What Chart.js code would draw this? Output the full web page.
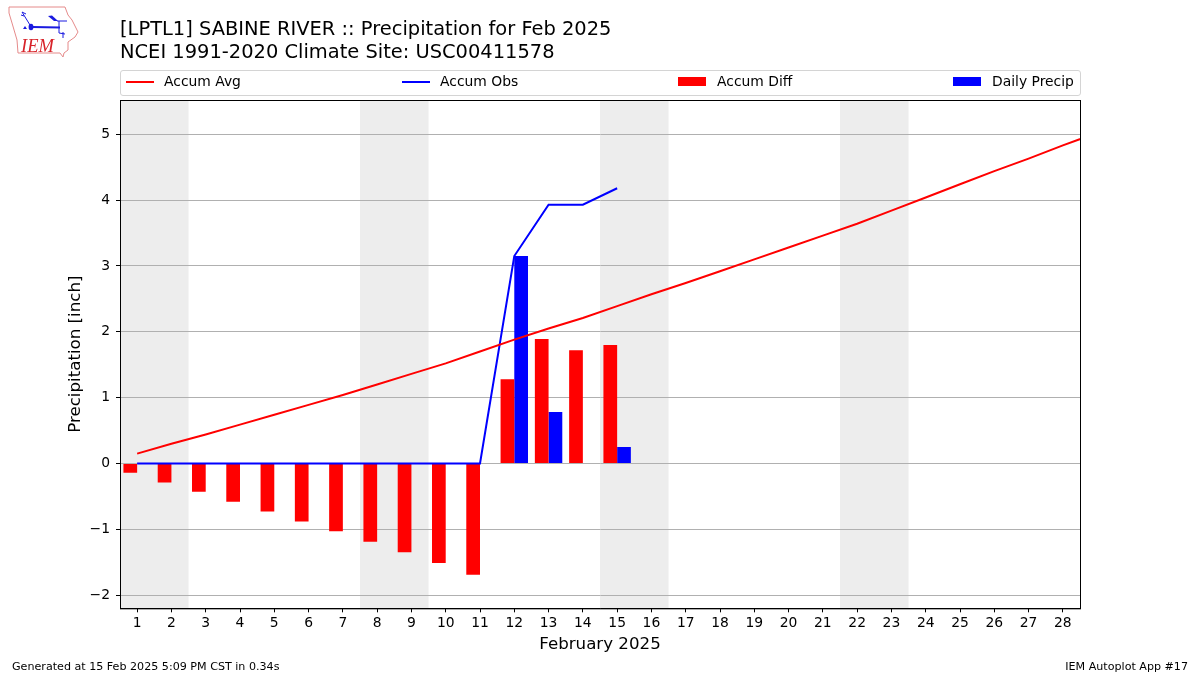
<!DOCTYPE html>
<html>
<head>
<meta charset="utf-8">
<title>Precipitation for Feb 2025</title>
<script src="https://cdn.jsdelivr.net/npm/chart.js@4/dist/chart.umd.min.js"></script>
<style>
  html, body { margin: 0; padding: 0; background: #fff; }
  body { width: 1200px; height: 675px; position: relative; overflow: hidden; font-family: "DejaVu Sans", sans-serif; color: #000; }
  canvas { position: absolute; left: 0; top: 0; }
  #title { position: absolute; left: 120px; top: 18px; font-size: 19.44px; line-height: 22.5px; white-space: nowrap; }
  #legend { position: absolute; left: 120px; top: 70px; width: 959px; height: 24px; border: 1px solid #d4d4d4; border-radius: 3px; font-size: 13.89px; }
  #legend div { position: absolute; top: 0; line-height: 20px; white-space: nowrap; }
  #legend i { position: absolute; top: 10px; left: 0; width: 28px; height: 2px; }
  #legend i.box { top: 6px; height: 9px; }
  #legend span { margin-left: 38px; }
  #legend i.box + span { margin-left: 39px; }
  .foot { position: absolute; top: 660px; font-size: 11.11px; line-height: 13px; white-space: nowrap; }
  #logo { position: absolute; left: 0; top: 0; }
  #logo text { font-family: "Liberation Serif", serif; font-style: italic; }
</style>
</head>
<body>
<canvas id="chart" width="1200" height="675"></canvas>

<svg id="logo" width="90" height="65" viewBox="0 0 90 65">
  <path d="M9 7 L65 7 L68 15 L72 20 L78 32 L75 37 L68 42 L68 50 L64 53 L63 57 L60 53 L18 53 L17 40 L12 23 L9 13 Z" fill="#fff" stroke="#e58a8a" stroke-width="1"/>
  <path d="M32 27 L60 27.5" fill="none" stroke="#1a1ae0" stroke-width="2"/>
  <path d="M22 12 L30 25 M22 12 L26 14 M21 15 L24 16 M57 21 L67 21 M59 21 L59 33 M63 32 L63 38 M59 33 L65 34" fill="none" stroke="#1a1ae0" stroke-width="1"/>
  <path d="M48 16 L52 15.5 L58 21 L54 21 Z" fill="#1a1ae0"/>
  <path d="M23 29 L25 26 L27 29 Z" fill="#1a1ae0"/>
  <ellipse cx="31" cy="27" rx="2.4" ry="3.2" fill="#1a1ae0"/>
  <text x="21" y="52" font-size="18.5" fill="#d8232a">IEM</text>
</svg>

<div id="title"></div>
<div id="legend"></div>
<div class="foot" id="footLeft" style="left:12px"></div>
<div class="foot" id="footRight" style="right:12px"></div>

<script>
const titleLines = ["[LPTL1] SABINE RIVER :: Precipitation for Feb 2025", "NCEI 1991-2020 Climate Site: USC00411578"];
const footerLeft = "Generated at 15 Feb 2025 5:09 PM CST in 0.34s";
const footerRight = "IEM Autoplot App #17";
const xTitle = "February 2025";
const yTitle = "Precipitation [inch]";

const days = [1,2,3,4,5,6,7,8,9,10,11,12,13,14,15,16,17,18,19,20,21,22,23,24,25,26,27,28];
const yTicks = [-2,-1,0,1,2,3,4,5];

// the avg line runs on past the right edge
const avgDays = [...days, 29];
const accumAvg = [0.15,0.30,0.44,0.59,0.74,0.89,1.04,1.20,1.36,1.52,1.70,1.88,2.05,2.21,2.39,2.57,2.74,2.92,3.10,3.28,3.46,3.64,3.84,4.04,4.24,4.44,4.63,4.83,5.02];
const accumObs = [0,0,0,0,0,0,0,0,0,0,0,3.15,3.93,3.93,4.18];
const accumDiff = [-0.14,-0.29,-0.43,-0.58,-0.73,-0.88,-1.03,-1.19,-1.35,-1.51,-1.69,1.28,1.89,1.72,1.80];
const dailyPrecip = [0,0,0,0,0,0,0,0,0,0,0,3.15,0.78,0,0.25];

// weekend bands, first and last day
const weekends = [[1,2],[8,9],[15,16],[22,23]];

const legendItems = [
  { label: "Accum Avg", color: "#ff0000", box: false, left: 5 },
  { label: "Accum Obs", color: "#0000ff", box: false, left: 281 },
  { label: "Accum Diff", color: "#ff0000", box: true, left: 557 },
  { label: "Daily Precip", color: "#0000ff", box: true, left: 832 },
];

document.getElementById("title").innerHTML = titleLines.join("<br>");
document.getElementById("footLeft").textContent = footerLeft;
document.getElementById("footRight").textContent = footerRight;
document.getElementById("legend").innerHTML = legendItems.map((item) =>
  `<div style="left:${item.left}px"><i class="${item.box ? "box" : ""}" style="background:${item.color}"></i><span>${item.label}</span></div>`
).join("");

//grey weekend bands go under the grid, frame goes over everything
const bands = {
  id: "bands",
  beforeDraw(chart) {
    const { ctx, chartArea, scales } = chart;
    ctx.save();
    ctx.fillStyle = "#ededed";
    weekends.forEach(([a, b]) => {
      const x0 = scales.x.getPixelForValue(a - 0.5);
      const x1 = scales.x.getPixelForValue(b + 0.5);
      ctx.fillRect(x0, chartArea.top, x1 - x0, chartArea.bottom - chartArea.top);
    });
    ctx.restore();
  },
  afterDraw(chart) {
    const { ctx, chartArea } = chart;
    ctx.save();
    ctx.strokeStyle = "#000";
    ctx.lineWidth = 1;
    ctx.strokeRect(chartArea.left + 0.5, chartArea.top + 0.5, chartArea.right - chartArea.left, chartArea.bottom - chartArea.top);
    ctx.restore();
  },
};

const xy = (xs, ys) => ys.map((y, i) => ({ x: xs[i], y: y }));
const tickFont = { family: "'DejaVu Sans'", size: 13.89 };
const axisFont = { family: "'DejaVu Sans'", size: 16.67 };

new Chart(document.getElementById("chart"), {
  data: {
    datasets: [
      { type: "line", label: "Accum Avg", data: xy(avgDays, accumAvg), borderColor: "#ff0000", borderWidth: 2, pointRadius: 0, tension: 0, order: 1 },
      { type: "line", label: "Accum Obs", data: xy(days, accumObs), borderColor: "#0000ff", borderWidth: 2, pointRadius: 0, tension: 0, order: 1 },
      { type: "bar", label: "Accum Diff", data: xy(days, accumDiff), backgroundColor: "#ff0000", barPercentage: 1, categoryPercentage: 0.8, order: 2 },
      { type: "bar", label: "Daily Precip", data: xy(days, dailyPrecip), backgroundColor: "#0000ff", barPercentage: 1, categoryPercentage: 0.8, order: 2 },
    ],
  },
  options: {
    responsive: false,
    animation: false,
    layout: { padding: { left: 0, top: 100, right: 120, bottom: 20 } },
    plugins: { legend: { display: false }, tooltip: { enabled: false } },
    scales: {
      x: {
        type: "linear",
        offset: false,
        min: 0.5,
        max: 28.5,
        afterBuildTicks: (axis) => { axis.ticks = days.map((d) => ({ value: d })); },
        ticks: { color: "#000", font: tickFont, autoSkip: false, maxRotation: 0, padding: 2.5, callback: (v) => v },
        grid: { offset: false, drawOnChartArea: false, color: "#000", tickLength: 4 },
        border: { color: "#000" },
        title: { display: true, text: xTitle, color: "#000", font: axisFont, padding: { top: 1, bottom: 0 } },
      },
      y: {
        min: -2.2,
        max: 5.52,
        afterBuildTicks: (axis) => { axis.ticks = yTicks.map((v) => ({ value: v })); },
        afterFit: (axis) => { axis.width = 120; },
        ticks: { color: "#000", font: tickFont, padding: 6, callback: (v) => String(v).replace("-", "\u2212") },
        grid: { color: "#b0b0b0", lineWidth: 1, tickColor: "#000", tickLength: 4 },
        border: { color: "#000" },
        title: { display: true, text: yTitle, color: "#000", font: axisFont, padding: { top: 66, bottom: 0 } },
      },
    },
  },
  plugins: [bands],
});
</script>
</body>
</html>
